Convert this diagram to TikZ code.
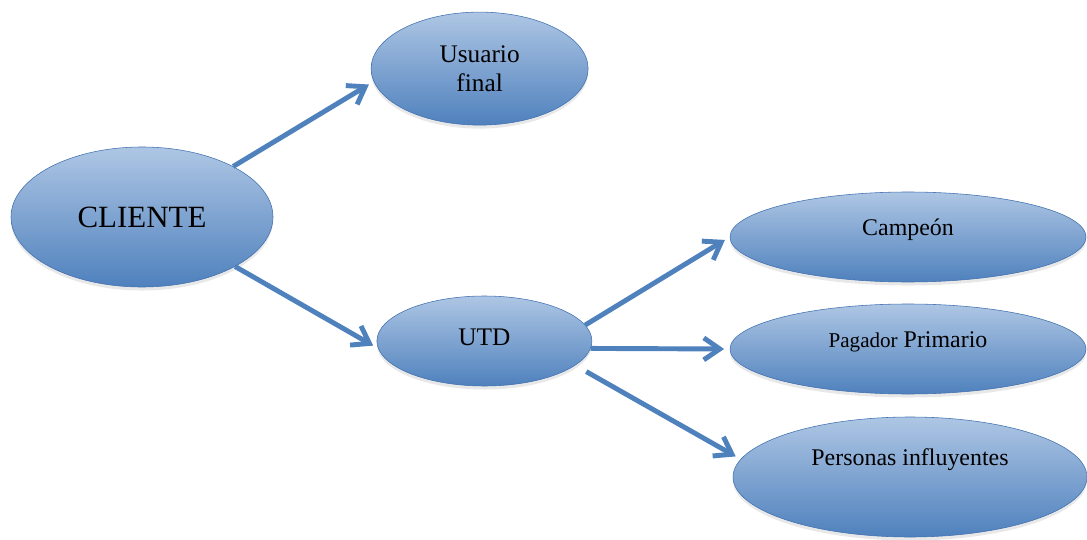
\documentclass[tikz,border=0pt]{standalone}
\usepackage{fontspec}
\setmainfont{Liberation Serif}
\usepackage{tikz}
\usepackage{xcolor}
\usetikzlibrary{shapes.geometric, arrows.meta, shadows}
\definecolor{cTop}{RGB}{174,198,228}
\definecolor{cBot}{RGB}{79,129,189}
\definecolor{cEdge}{RGB}{65,113,176}
\definecolor{cArrow}{RGB}{79,129,189}
\tikzset{
	bubble/.style ={ellipse, draw=cEdge, thin, top color=cTop, bottom color=cBot, inner sep=0pt, align=center,
	                drop shadow={shadow xshift=0pt, shadow yshift=-2.5pt, opacity=0.18}},
	rel/.style    ={-{Straight Barb[length=4mm, width=5.5mm]}, line width=3.5pt, cArrow, shorten >=4pt},
}

\begin{document}
\begin{tikzpicture}
	\useasboundingbox (0,0) rectangle (27.175,13.475);
	% client and its two groups
	\node[bubble, minimum width=6.55cm, minimum height=3.5cm, font=\fontsize{22}{26}\selectfont] (cli) at (3.55,8.05)
		{CLIENTE};
	\node[bubble, minimum width=5.425cm, minimum height=2.825cm, font=\fontsize{18}{21}\selectfont] (usr) at (11.99,11.76)
		{Usuario\\ final};
	\node[bubble, minimum width=5.375cm, minimum height=2.25cm, text depth=5.6pt, font=\fontsize{18}{21}\selectfont] (utd) at (12.11,4.95)
		{UTD};
	% roles inside the UTD
	\node[bubble, minimum width=8.9cm, minimum height=2.25cm, text depth=14pt, font=\fontsize{17}{20}\selectfont] (cmp) at (22.7,7.55)
		{Campeón};
	\node[bubble, minimum width=8.9cm, minimum height=2.25cm, text depth=14pt, font=\fontsize{17}{20}\selectfont] (pag) at (22.7,4.75)
		{{\fontsize{15}{18}\selectfont Pagador} Primario};
	\node[bubble, minimum width=8.85cm, minimum height=3cm, text depth=28pt, font=\fontsize{17}{20}\selectfont] (per) at (22.75,1.55)
		{Personas influyentes};
	% arrows
	\draw[rel] (cli.29) -- (usr.187);
	\draw[rel] (cli.-28) -- (utd.184);
	\draw[rel] (utd.9) -- (cmp.180);
	\draw[rel] (utd.-4) -- (pag.180);
	\draw[rel, shorten <=9pt] (utd.-15) -- (per.174);
\end{tikzpicture}
\end{document}
